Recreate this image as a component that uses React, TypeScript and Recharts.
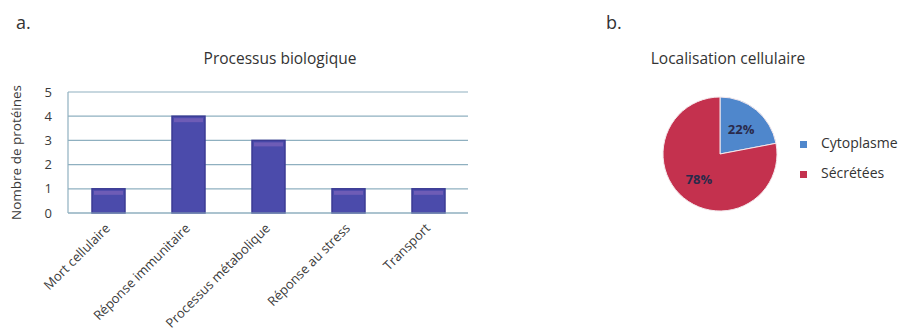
import React from 'react';
import { BarChart, Bar, XAxis, YAxis, CartesianGrid, PieChart, Pie, Cell, Legend } from 'recharts';

const processLabels = ['Mort cellulaire', 'Réponse immunitaire', 'Processus métabolique', 'Réponse au stress', 'Transport'];
const processCounts = [1, 4, 3, 1, 1];
const yTicks = [0, 1, 2, 3, 4, 5];

const locationNames = ['Cytoplasme', 'Sécrétées'];
const locationShares = [22, 78];
const locationColors = ['#4f87cc', '#c4314e'];

const FONT = '"Open Sans", "Noto Sans", sans-serif';

const barData = processLabels.map((name, i) => ({ name, count: processCounts[i] }));
const pieData = locationNames.map((name, i) => ({ name, value: locationShares[i] }));

const BarShape = (props: any) => {
  const { x, y, width, height } = props;
  if (!height) return null;
  return (
    <g>
      <rect x={x} y={y} width={width} height={height} fill="#4b4bab" stroke="#3b3b94" strokeWidth={1.5} />
      <rect x={x + 2} y={y + 2} width={width - 4} height={4} fill="#8d6cc0" opacity={0.55} />
    </g>
  );
};

const XTick = (props: any) => {
  const { x, y, payload } = props;
  return (
    <text
      x={x + 3}
      y={y + 8}
      transform={`rotate(-45, ${x + 3}, ${y + 8})`}
      textAnchor="end"
      fontSize={13}
      fill="#3a3a3a"
      fontFamily={FONT}
    >
      {payload.value}
    </text>
  );
};

const RADIAN = Math.PI / 180;
const PieLabel = (props: any) => {
  const { cx, cy, midAngle, outerRadius, value } = props;
  const r = outerRadius * 0.58;
  const x = cx + r * Math.cos(-midAngle * RADIAN);
  const y = cy + r * Math.sin(-midAngle * RADIAN);
  return (
    <text x={x} y={y} textAnchor="middle" dominantBaseline="central" fontSize={13} fontWeight={700} fill="#2a2a4a" fontFamily={FONT}>
      {value}%
    </text>
  );
};

export default function App() {
  return (
    <div style={{ position: 'absolute', left: 0, top: 0, width: 902, height: 333, background: '#fff', fontFamily: FONT, color: '#333' }}>
      <div style={{ position: 'absolute', left: 16, top: 10, fontSize: 18 }}>a.</div>
      <div style={{ position: 'absolute', left: 606, top: 10, fontSize: 18 }}>b.</div>
      <div style={{ position: 'absolute', left: 130, width: 300, top: 47, textAlign: 'center', fontSize: 15.5 }}>Processus biologique</div>
      <div style={{ position: 'absolute', left: 628, width: 200, top: 47, textAlign: 'center', fontSize: 15.5 }}>Localisation cellulaire</div>

      <div style={{ position: 'absolute', left: 0, top: 0 }}>
        <BarChart width={472} height={333} data={barData} margin={{ top: 92, right: 4, bottom: 20, left: 0 }} barSize={33}>
          <CartesianGrid vertical={false} stroke="#8fb0c0" strokeWidth={1.2} />
          <XAxis
            dataKey="name"
            interval={0}
            height={100}
            tickLine={false}
            axisLine={{ stroke: '#8fb0c0', strokeWidth: 1.2 }}
            tick={<XTick />}
          />
          <YAxis
            width={68}
            domain={[0, 5]}
            ticks={yTicks}
            interval={0}
            tickLine={false}
            tickMargin={10}
            axisLine={{ stroke: '#8fb0c0', strokeWidth: 1.2 }}
            tick={{ fontSize: 13, fill: '#3a3a3a', fontFamily: FONT }}
            label={{ value: 'Nombre de protéines', angle: -90, position: 'insideLeft', offset: 16, style: { fontSize: 13.5, fill: '#3a3a3a', fontFamily: FONT, textAnchor: 'middle' } }}
          />
          <Bar dataKey="count" shape={<BarShape />} isAnimationActive={false} />
        </BarChart>
      </div>

      <div style={{ position: 'absolute', left: 620, top: 50 }}>
        <PieChart width={282} height={200}>
          <Pie
            data={pieData}
            dataKey="value"
            nameKey="name"
            cx={95}
            cy={99}
            outerRadius={57}
            startAngle={90}
            endAngle={-270}
            stroke="#f4e8ec"
            strokeWidth={1}
            label={<PieLabel />}
            labelLine={false}
            isAnimationActive={false}
          >
            {pieData.map((d, i) => (
              <Cell key={d.name} fill={locationColors[i]} />
            ))}
          </Pie>
          <Legend
            layout="vertical"
            align="right"
            verticalAlign="top"
            iconType="square"
            iconSize={7}
            wrapperStyle={{ left: 180, top: 78, width: 110, fontSize: 14, lineHeight: '30px', color: '#333' }}
            formatter={(v: string) => <span style={{ color: '#333', marginLeft: 10 }}>{v}</span>}
          />
        </PieChart>
      </div>
    </div>
  );
}
